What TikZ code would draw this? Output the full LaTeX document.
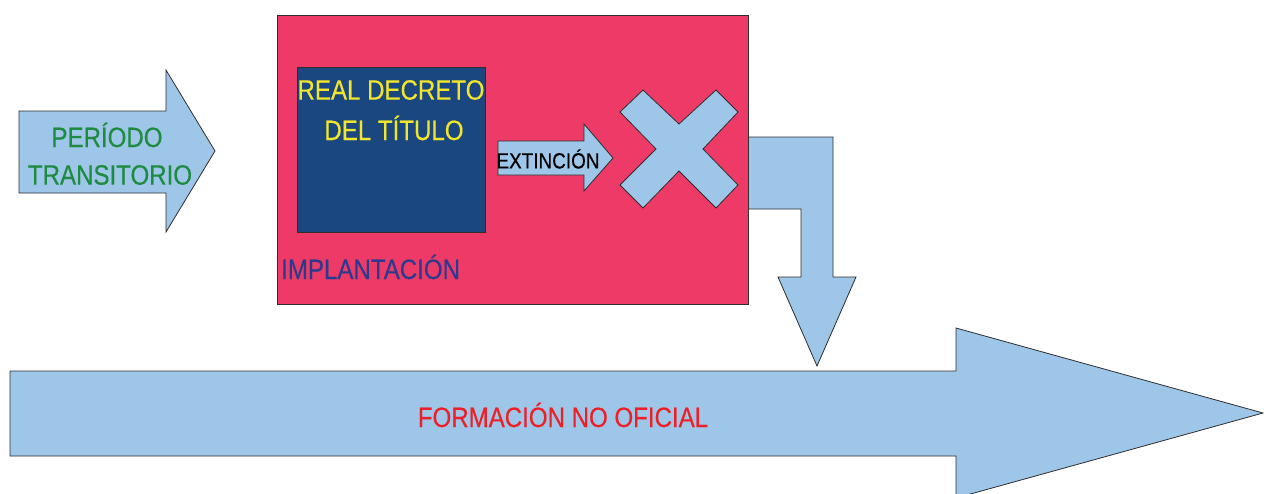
\documentclass[tikz,border=0pt]{standalone}
\usepackage{fontspec}
\setmainfont{Liberation Sans}[FakeStretch=0.86,FakeBold=0.4]
\definecolor{arrowblue}{HTML}{9DC6E9}
\definecolor{boxpink}{HTML}{EE3A66}
\definecolor{boxnavy}{HTML}{1B4781}
\definecolor{txtyellow}{HTML}{F2E62C}
\definecolor{txtgreen}{HTML}{1E8B40}
\definecolor{txtindigo}{HTML}{2C3A8E}
\definecolor{txtred}{HTML}{EE2027}
\definecolor{outline}{HTML}{2E2E2E}
\begin{document}
\begin{tikzpicture}[x=1pt,y=-1pt]
    % Define styles for the shapes and labels
    \tikzstyle{blockarrow}=[draw=outline, fill=arrowblue, line width=0.8pt, line join=miter]
    \tikzstyle{bigtext}=[font=\fontsize{28}{32}\selectfont, inner sep=0pt]
    \tikzstyle{smalltext}=[font=\fontsize{22}{26}\selectfont, inner sep=0pt]

    \useasboundingbox (0,0) rectangle (1264,493);

    % Formacion no oficial
    \draw[blockarrow] (10,371) -- (956,371) -- (956,328) -- (1263,413)
        -- (956,498) -- (956,456) -- (10,456) -- cycle;
    \node[bigtext, text=txtred] (formacion) at (563,415) {FORMACIÓN NO OFICIAL};

    % Periodo transitorio
    \draw[blockarrow] (19,111) -- (166,111) -- (166,70) -- (215,151)
        -- (166,232) -- (166,193) -- (19,193) -- cycle;
    \node[bigtext, text=txtgreen] (periodo) at (107,135) {PERÍODO};
    \node[bigtext, text=txtgreen] (transitorio) at (110,175) {TRANSITORIO};

    % Bent arrow down to the formacion
    \draw[blockarrow] (748,137) -- (833,137) -- (833,277) -- (856,277) -- (817,366)
        -- (778,277) -- (801,277) -- (801,209) -- (748,209) -- cycle;

    % Implantacion
    \draw[draw=outline, fill=boxpink, line width=0.8pt] (277,15) rectangle (748,304);
    \node[bigtext, text=txtindigo, anchor=west] (implantacion) at (281,267) {IMPLANTACIÓN};

    % Real decreto del titulo
    \draw[draw=outline, fill=boxnavy, line width=0.8pt] (297,67) rectangle (485,232);
    \node[bigtext, text=txtyellow] (decreto) at (391,90) {REAL DECRETO};
    \node[bigtext, text=txtyellow] (titulo) at (394,128) {DEL TÍTULO};

    % Extincion
    \draw[blockarrow] (498,141) -- (584,141) -- (584,124) -- (613,158)
        -- (584,191) -- (584,175) -- (498,175) -- cycle;
    \node[smalltext, text=black] (extincion) at (548,159) {EXTINCIÓN};

    % Cross
    \draw[blockarrow] (643,90) -- (679,124) -- (716,90) -- (738,112) -- (703,149)
        -- (738,185) -- (716,208) -- (679,171) -- (643,208) -- (620,185)
        -- (656,149) -- (620,112) -- cycle;
\end{tikzpicture}
\end{document}
